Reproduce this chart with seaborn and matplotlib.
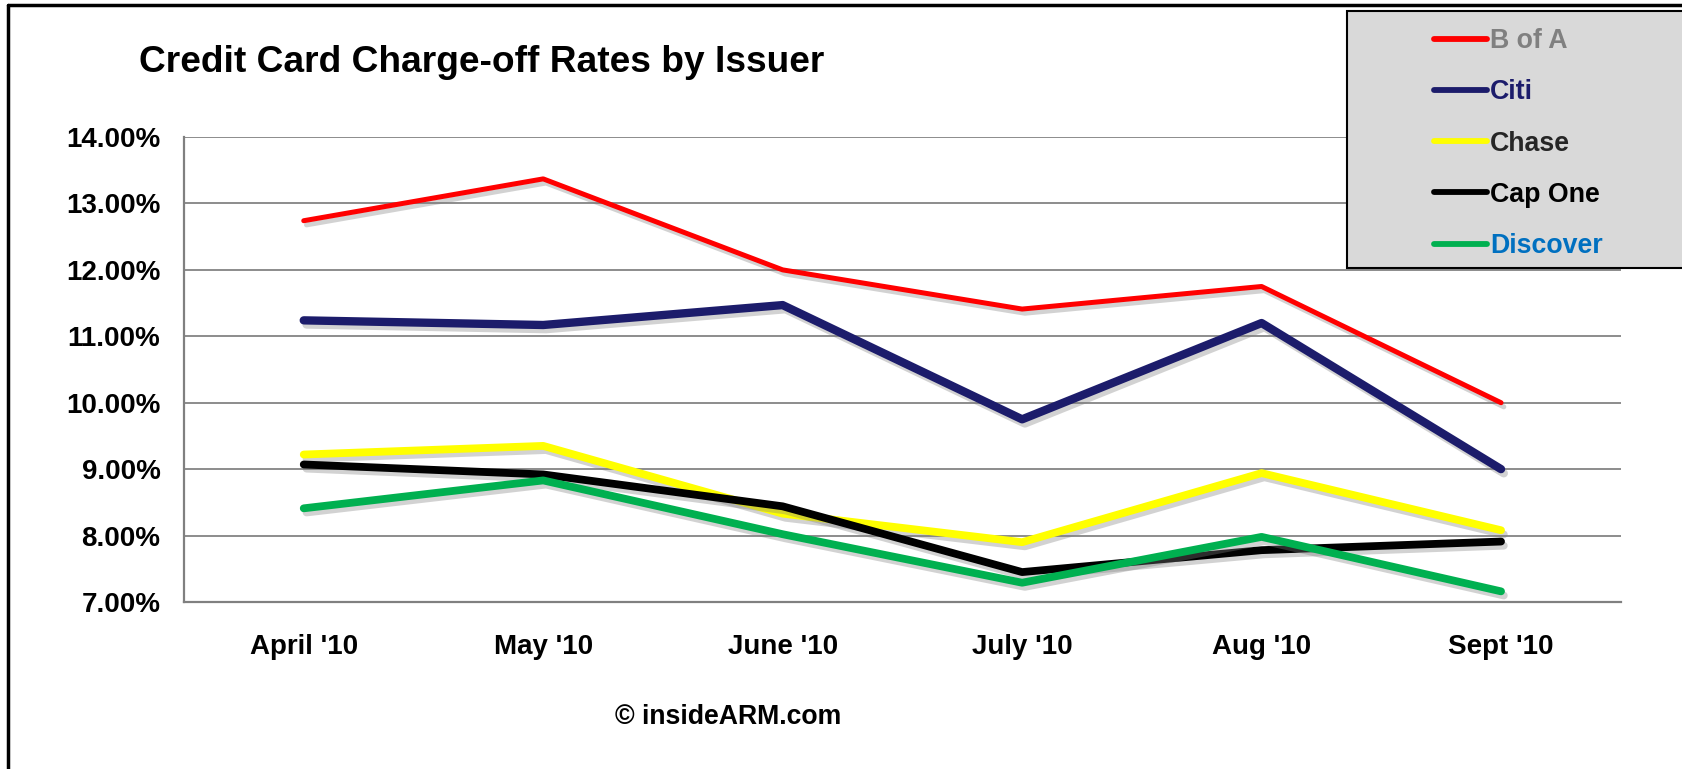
import matplotlib
matplotlib.use("Agg")
import matplotlib.pyplot as plt
import matplotlib.patheffects as pe
from matplotlib.lines import Line2D
from matplotlib.patches import Rectangle
import seaborn as sns
import pandas as pd

months = ["April '10", "May '10", "June '10", "July '10", "Aug '10", "Sept '10"]
issuers = ["B of A", "Citi", "Chase", "Cap One", "Discover"]
b_of_a = [12.74, 13.37, 12.00, 11.41, 11.75, 10.00]
citi = [11.24, 11.17, 11.47, 9.75, 11.20, 9.00]
chase = [9.22, 9.35, 8.33, 7.90, 8.94, 8.08]
cap_one = [9.07, 8.92, 8.44, 7.45, 7.78, 7.91]
discover = [8.41, 8.83, 8.02, 7.29, 7.98, 7.16]
yticks = [7, 8, 9, 10, 11, 12, 13, 14]

series = [b_of_a, citi, chase, cap_one, discover]
line_colors = ["#ff0000", "#1c1c6b", "#ffff00", "#000000", "#00b050"]
text_colors = ["#808080", "#1c1c6b", "#262626", "#000000", "#0070c0"]
widths = [3.6, 6.0, 5.6, 5.6, 5.6]

df = pd.DataFrame({
    "month": months * len(issuers),
    "rate": sum(series, []),
    "issuer": [i for i in issuers for _ in months],
})

sns.set_style("white")
plt.rcParams["font.family"] = ["Liberation Sans", "DejaVu Sans"]
plt.rcParams["font.weight"] = "bold"
plt.rcParams["text.color"] = "black"
plt.rcParams["xtick.color"] = "black"
plt.rcParams["ytick.color"] = "black"

fig = plt.figure(figsize=(16.82, 7.69), dpi=100)
ax = fig.add_axes([0.1094, 0.2172, 0.8542, 0.6046])

for name, col, lw in zip(issuers, line_colors, widths):
    sub = df[df["issuer"] == name]
    sns.lineplot(data=sub, x="month", y="rate", ax=ax, color=col, linewidth=lw,
                 sort=False, label=name, legend=False,
                 path_effects=[pe.SimpleLineShadow(offset=(2, -3), shadow_color="#808080", alpha=0.35),
                               pe.Normal()])
    ax.lines[-1].set_solid_capstyle("round")

ax.set_xlim(-0.5, 5.5)
ax.set_ylim(7, 14)
ax.set_yticks(yticks)
ax.set_yticklabels([f"{v:.2f}%" for v in yticks])
ax.set_xlabel("")
ax.set_ylabel("")
ax.yaxis.grid(True, color="#8c8c8c", linewidth=1.4)
ax.set_axisbelow(True)
for s in ["top", "right"]:
    ax.spines[s].set_visible(False)
for s in ["left", "bottom"]:
    ax.spines[s].set_color("#808080")
    ax.spines[s].set_linewidth(1.6)
ax.tick_params(axis="y", length=0, pad=17, labelsize=20, labelcolor="black")
ax.tick_params(axis="x", length=0, pad=23, labelsize=20, labelcolor="black")
for t in ax.get_xticklabels() + ax.get_yticklabels():
    t.set_fontweight("bold")

# title
fig.text(139 / 1682, 1 - 62 / 769, "Credit Card Charge-off Rates by Issuer",
         fontsize=26.7, fontweight="bold", ha="left", va="center", color="black")
# credit
fig.text(728 / 1682, 1 - 717 / 769, "\u00a9 insideARM.com",
         fontsize=19.2, fontweight="bold", ha="center", va="center", color="black")

# outer frame
fig.add_artist(Line2D([8 / 1682, 8 / 1682], [0, 1 - 5 / 769], color="black", lw=2.5,
                      transform=fig.transFigure))
fig.add_artist(Line2D([8 / 1682, 1], [1 - 5 / 769, 1 - 5 / 769], color="black", lw=2.5,
                      transform=fig.transFigure))

# legend box
fig.add_artist(Rectangle((1347 / 1682, 1 - 268 / 769), (1700 - 1347) / 1682, (268 - 11) / 769,
                         facecolor="#d9d9d9", edgecolor="black", lw=1.5,
                         transform=fig.transFigure, zorder=5))
handles = [Line2D([], [], color=c, lw=4.2, solid_capstyle="round") for c in line_colors]
leg = fig.legend(handles, issuers, loc="upper left",
                 bbox_to_anchor=(1410 / 1682, 1 - 4 / 769), frameon=False,
                 handlelength=1.98, handletextpad=0.1, labelspacing=0.94,
                 prop={"weight": "bold", "size": 19.3})
leg.set_zorder(6)
for t, c in zip(leg.get_texts(), text_colors):
    t.set_color(c)

fig.savefig("out.png", dpi=100)
